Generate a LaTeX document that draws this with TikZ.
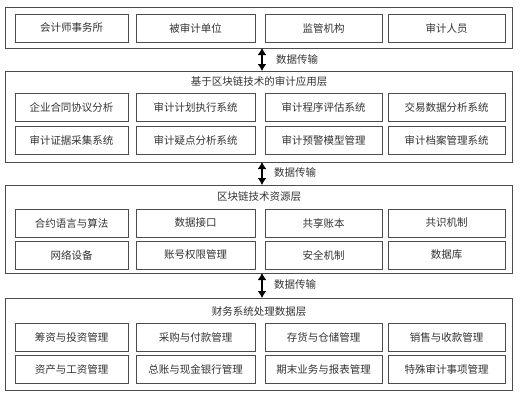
\documentclass[tikz,border=0pt]{standalone}
\usepackage{fontspec}
\setmainfont{Noto Sans CJK SC}
\usetikzlibrary{arrows.meta}
\begin{document}
\begin{tikzpicture}[x=1pt,y=-1pt,
  box/.style={draw=black!70, line width=0.7pt, minimum height=28pt, inner sep=0pt, font=\fontsize{10.5}{12}\selectfont, text=black!80},
  layer/.style={draw=black!70, line width=0.9pt, inner sep=0pt},
  ttl/.style={font=\fontsize{10.5}{12}\selectfont, text=black!80, inner sep=0pt},
  lbl/.style={font=\fontsize{10.5}{12}\selectfont, text=black!80, inner sep=0pt, anchor=west},
  flow/.style={{Latex[length=7pt,width=9pt]}-{Latex[length=7pt,width=9pt]}, line width=1.6pt, black}]
\useasboundingbox (0,0) rectangle (528,400);
\fill[white] (0,0) rectangle (528,400);
% layer frames
\node[layer, minimum width=507pt, minimum height=41pt] (L1) at (259,27.5) {};
\node[layer, minimum width=507pt, minimum height=91pt] (L2) at (259,116.5) {};
\node[layer, minimum width=507pt, minimum height=88pt] (L3) at (259,229) {};
\node[layer, minimum width=507pt, minimum height=92pt] (L4) at (259,344) {};
% titles
\node[ttl] (T2) at (259,82) {基于区块链技术的审计应用层};
\node[ttl] (T3) at (259,197) {区块链技术资源层};
\node[ttl] (T4) at (259,312) {财务系统处理数据层};
% layer 1
\node[box, minimum width=113pt] (a1) at (71.5,28) {会计师事务所};
\node[box, minimum width=119pt] (a2) at (195.5,28) {被审计单位};
\node[box, minimum width=117pt] (a3) at (323.5,28) {监管机构};
\node[box, minimum width=117pt] (a4) at (446.5,28) {审计人员};
% layer 2
\node[box, minimum width=113pt] (b1) at (71.5,107) {企业合同协议分析};
\node[box, minimum width=119pt] (b2) at (195.5,107) {审计计划执行系统};
\node[box, minimum width=117pt] (b3) at (323.5,107) {审计程序评估系统};
\node[box, minimum width=117pt] (b4) at (446.5,107) {交易数据分析系统};
\node[box, minimum width=113pt] (b5) at (71.5,140.5) {审计证据采集系统};
\node[box, minimum width=119pt] (b6) at (195.5,140.5) {审计疑点分析系统};
\node[box, minimum width=117pt] (b7) at (323.5,140.5) {审计预警模型管理};
\node[box, minimum width=117pt] (b8) at (446.5,140.5) {审计档案管理系统};
% layer 3
\node[box, minimum width=113pt] (c1) at (71.5,223) {合约语言与算法};
\node[box, minimum width=119pt] (c2) at (195.5,223) {数据接口};
\node[box, minimum width=117pt] (c3) at (323.5,223) {共享账本};
\node[box, minimum width=117pt] (c4) at (446.5,223) {共识机制};
\node[box, minimum width=113pt] (c5) at (71.5,255) {网络设备};
\node[box, minimum width=119pt] (c6) at (195.5,255) {账号权限管理};
\node[box, minimum width=117pt] (c7) at (323.5,255) {安全机制};
\node[box, minimum width=117pt] (c8) at (446.5,255) {数据库};
% layer 4
\node[box, minimum width=113pt] (d1) at (71.5,337) {筹资与投资管理};
\node[box, minimum width=119pt] (d2) at (195.5,337) {采购与付款管理};
\node[box, minimum width=117pt] (d3) at (323.5,337) {存货与仓储管理};
\node[box, minimum width=117pt] (d4) at (446.5,337) {销售与收款管理};
\node[box, minimum width=113pt] (d5) at (71.5,369.5) {资产与工资管理};
\node[box, minimum width=119pt] (d6) at (195.5,369.5) {总账与现金银行管理};
\node[box, minimum width=117pt] (d7) at (323.5,369.5) {期末业务与报表管理};
\node[box, minimum width=117pt] (d8) at (446.5,369.5) {特殊审计事项管理};
% connectors
\coordinate (p1) at (262,48);
\coordinate (q1) at (262,71);
\draw[flow] (p1) -- (q1);
\node[lbl] (m1) at (276,60) {数据传输};
\coordinate (p2) at (262,162);
\coordinate (q2) at (262,185);
\draw[flow] (p2) -- (q2);
\node[lbl] (m2) at (274,173) {数据传输};
\coordinate (p3) at (262,273);
\coordinate (q3) at (262,298);
\draw[flow] (p3) -- (q3);
\node[lbl] (m3) at (274,285) {数据传输};
\end{tikzpicture}
\end{document}
